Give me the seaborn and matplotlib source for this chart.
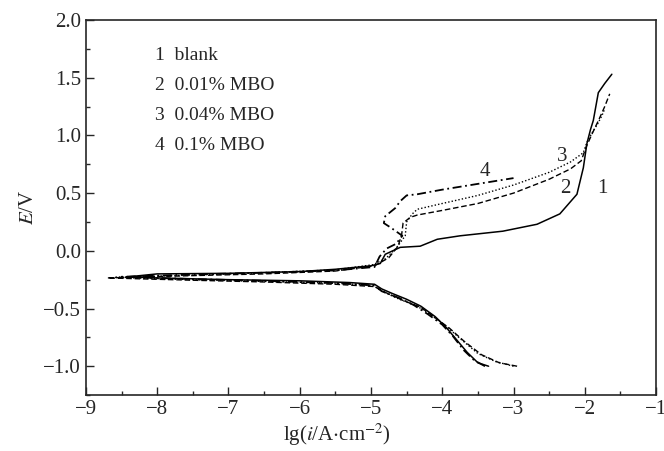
import numpy as np
import pandas as pd
import matplotlib
matplotlib.use("Agg")
import matplotlib.pyplot as plt
import seaborn as sns

# polarization curves: lg(i/A cm^-2) and E/V
# 1 blank
x1 = [-3.35, -3.5, -3.65, -3.8, -3.95, -4.1, -4.3, -4.5, -4.7, -4.85, -4.95, -5.3, -6.0, -7.0, -8.0, -8.4,
      -8.0, -7.0, -6.0, -5.5, -5.0, -4.87, -4.8, -4.59, -4.31, -4.07, -3.75, -3.15, -2.67, -2.35, -2.11,
      -2.02, -1.97, -1.92, -1.88, -1.81, -1.72, -1.62]
e1 = [-1.0, -0.97, -0.88, -0.77, -0.66, -0.57, -0.48, -0.42, -0.37, -0.33, -0.29, -0.275, -0.26, -0.25, -0.235, -0.225,
      -0.2, -0.195, -0.18, -0.16, -0.13, -0.11, -0.03, 0.03, 0.04, 0.10, 0.13, 0.17, 0.23, 0.32, 0.49,
      0.72, 0.93, 1.05, 1.13, 1.37, 1.45, 1.53]
# 2 0.01% MBO
x2 = [-2.95, -3.2, -3.45, -3.7, -3.9, -4.1, -4.3, -4.55, -4.8, -4.95, -5.5, -6.5, -7.5, -8.7,
      -7.5, -6.5, -5.5, -4.95, -4.75, -4.62, -4.57, -4.55, -4.45, -4.35, -4.0, -3.5, -3.0, -2.5,
      -2.2, -2.05, -1.98, -1.9, -1.8, -1.72, -1.65]
e2 = [-1.0, -0.97, -0.9, -0.78, -0.67, -0.58, -0.49, -0.43, -0.36, -0.31, -0.29, -0.27, -0.255, -0.235,
      -0.215, -0.2, -0.175, -0.13, -0.06, 0.04, 0.14, 0.24, 0.29, 0.31, 0.35, 0.41, 0.5, 0.62,
      0.71, 0.78, 0.9, 1.01, 1.14, 1.25, 1.36]
# 3 0.04% MBO
x3 = [-3.0, -3.25, -3.5, -3.75, -3.95, -4.15, -4.35, -4.6, -4.85, -4.97, -5.5, -6.5, -7.5, -8.6,
      -7.5, -6.5, -5.5, -4.97, -4.8, -4.65, -4.52, -4.5, -4.42, -4.35, -4.0, -3.5, -3.0, -2.5,
      -2.2, -2.02, -1.97, -1.9, -1.82, -1.76, -1.72]
e3 = [-1.0, -0.96, -0.89, -0.76, -0.65, -0.56, -0.48, -0.42, -0.35, -0.30, -0.28, -0.265, -0.25, -0.23,
      -0.21, -0.19, -0.165, -0.12, -0.07, 0.02, 0.13, 0.25, 0.32, 0.36, 0.41, 0.48, 0.57, 0.68,
      0.77, 0.85, 0.94, 1.02, 1.1, 1.17, 1.23]
# 4 0.1% MBO
x4 = [-3.4, -3.55, -3.7, -3.85, -4.0, -4.2, -4.4, -4.6, -4.85, -4.95, -5.5, -6.5, -7.5, -8.5,
      -7.5, -6.5, -5.5, -4.95, -4.88, -4.78, -4.65, -4.56, -4.72, -4.82, -4.8, -4.66, -4.59, -4.5,
      -4.35, -4.0, -3.5, -3.0]
e4 = [-1.0, -0.95, -0.86, -0.74, -0.64, -0.55, -0.47, -0.41, -0.35, -0.30, -0.28, -0.26, -0.245, -0.225,
      -0.205, -0.19, -0.17, -0.14, -0.05, 0.02, 0.06, 0.13, 0.2, 0.24, 0.30, 0.37, 0.43, 0.48,
      0.49, 0.53, 0.58, 0.63]

curve_names = ["1", "2", "3", "4"]
legend_lines = ["1  blank", "2  0.01% MBO", "3  0.04% MBO", "4  0.1% MBO"]
label_pos = [(-1.76, 0.54), (-2.28, 0.54), (-2.32, 0.82), (-3.4, 0.69)]

sns.set_style("ticks")
plt.rcParams["font.family"] = ["Liberation Serif", "DejaVu Serif"]
plt.rcParams["mathtext.fontset"] = "stix"

fig = plt.figure(figsize=(6.64, 4.51), dpi=100)
ax = fig.add_axes([0.1295, 0.124, 0.8585, 0.8317])

styles = ["-", (0, (4, 2)), (0, (1, 1.5)), (0, (5, 2, 1, 2))]
widths = [1.1, 1.0, 1.0, 1.3]
for xs, es, ls, lw in zip([x1, x2, x3, x4], [e1, e2, e3, e4], styles, widths):
    df = pd.DataFrame({"lgi": xs, "E": es})
    sns.lineplot(data=df, x="lgi", y="E", sort=False, estimator=None,
                 color="black", lw=lw, linestyle=ls, ax=ax)

for name, (px, py) in zip(curve_names, label_pos):
    ax.text(px, py, name, fontsize=15, ha="center", va="center")

for k, t in enumerate(legend_lines):
    ax.text(-8.03, 1.69 - 0.26 * k, t, fontsize=14, ha="left", va="center")

ax.set_xlim(-9, -1)
ax.set_ylim(-1.25, 2.0)
ax.set_xticks(np.arange(-9, 0, 1))
ax.set_yticks(np.arange(-1.0, 2.01, 0.5))
ax.set_xticks(np.arange(-9, -0.9, 0.5), minor=True)
ax.set_yticks(np.arange(-1.25, 2.01, 0.25), minor=True)
ax.set_xticklabels([f"\u2212{abs(v)}" for v in range(-9, 0)])
ax.set_yticklabels([f"{v:.1f}".replace("-", "\u2212") for v in np.arange(-1.0, 2.01, 0.5)])
ax.tick_params(which="both", direction="in", labelsize=15, width=1, top=False, right=False)
ax.tick_params(which="major", length=6)
ax.tick_params(which="minor", length=3)
for s in ax.spines.values():
    s.set_linewidth(1.2)
ax.set_xlabel(r"lg($i$/A$\cdot$cm$^{-2}$)", fontsize=15)
ax.xaxis.set_label_coords(0.44, -0.07)
ax.set_ylabel(r"$E$/V", fontsize=15, labelpad=4)

fig.savefig("out.png", dpi=100)
